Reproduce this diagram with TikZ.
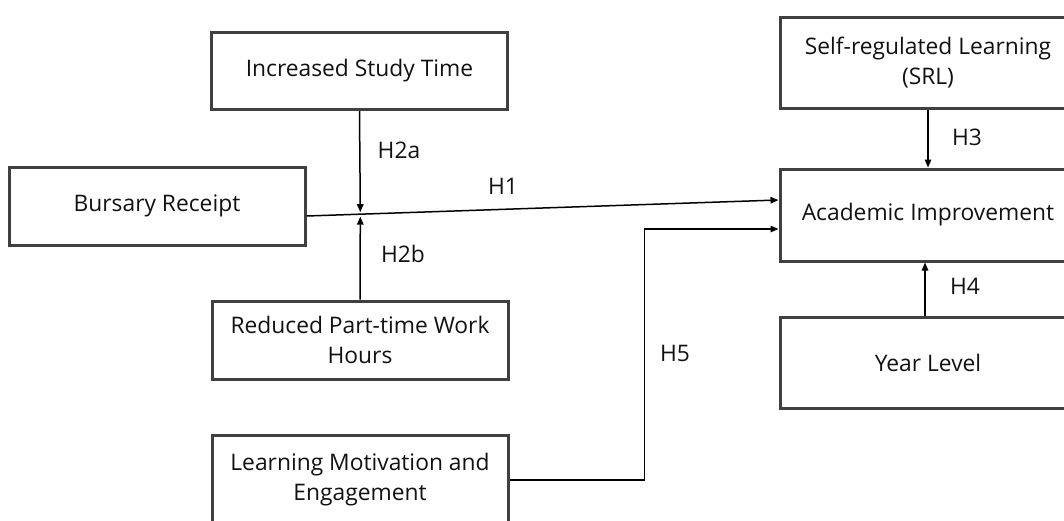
\documentclass[tikz,border=0pt]{standalone}
\usepackage{fontspec}
\setmainfont{Open Sans}
\usetikzlibrary{arrows.meta}
\definecolor{boxline}{HTML}{404040}
\definecolor{txt}{HTML}{111111}
\begin{document}
\begin{tikzpicture}[x=1pt,y=-1pt,
  box/.style={draw=boxline,line width=3pt,minimum width=296pt,align=center,text=txt,font=\fontsize{22.8}{30}\selectfont,inner sep=0pt},
  conn/.style={line width=1.5pt,-{Triangle[length=8pt,width=6.5pt]}},
  lbl/.style={text=txt,font=\fontsize{22.8}{24}\selectfont,inner sep=0pt}]
\useasboundingbox (0,0) rectangle (1064,520);
\clip (0,0) rectangle (1064,520);
\node[box,minimum height=77pt] (ist) at (359.5,71) {Increased Study Time};
\node[box,minimum height=78pt] (bur) at (157,206) {Bursary Receipt};
\node[box,minimum height=78pt] (rpt) at (360,340) {Reduced Part-time Work\\Hours};
\node[box,minimum height=90pt] (lme) at (360,480) {Learning Motivation and\\Engagement};
\node[box,minimum height=91pt] (srl) at (928,62.5) {Self-regulated Learning\\(SRL)};
\node[box,minimum height=92pt] (aim) at (928,215) {Academic Improvement};
\node[box,minimum height=91pt] (yl) at (928,362.5) {Year Level};
% H1
\draw[conn] ([yshift=-10pt]bur.east) -- coordinate[pos=0.114] (m) ([yshift=15pt]aim.west);
% H2a, H2b
\draw[conn] (ist.south) -- ([yshift=2pt]m);
\draw[conn] (rpt.north) -- ([yshift=-2.5pt]m);
% H3, H4
\draw[conn] (srl.south) -- (aim.north);
\draw[conn] ([xshift=-3pt]yl.north) -- ([xshift=-3pt]aim.south);
% H5
\draw[conn] (lme.east) -- ++(135,0) |- ([yshift=-14pt]aim.west);
% labels
\node[lbl] (h1) at (503,186) {H1};
\node[lbl] (h2a) at (399,150) {H2a};
\node[lbl] (h2b) at (403,254) {H2b};
\node[lbl] (h3) at (967,137) {H3};
\node[lbl] (h4) at (965,286) {H4};
\node[lbl] (h5) at (675,353) {H5};
\end{tikzpicture}
\end{document}
